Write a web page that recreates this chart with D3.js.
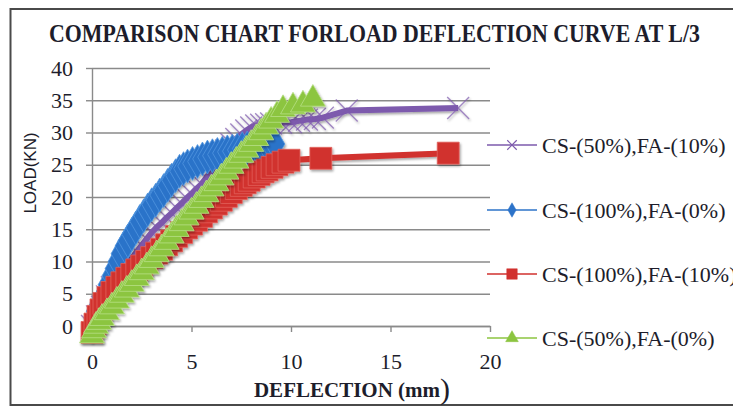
<!DOCTYPE html>
<html>
<head>
<meta charset="utf-8">
<script src="https://cdn.jsdelivr.net/npm/d3@7"></script>
<style>
  html, body { margin: 0; padding: 0; background: #fff; }
  svg { display: block; }
</style>
</head>
<body>
<svg id="chart" width="733" height="408"></svg>
<script>
// ---- data ----
const chartTitle = "COMPARISON CHART FORLOAD DEFLECTION CURVE AT L/3";
const xTitle = "DEFLECTION (mm";
const yTitle = "LOAD(KN)";
const xTickValues = [0, 5, 10, 15, 20];
const yTickValues = [0, 5, 10, 15, 20, 25, 30, 35, 40];
const seriesNames = ["CS-(50%),FA-(10%)", "CS-(100%),FA-(0%)", "CS-(100%),FA-(10%)", "CS-(50%),FA-(0%)"];

// CS-(50%),FA-(10%)
const cs50fa10Defl = [0, 0.25, 0.5, 0.75, 1, 1.25, 1.5, 1.75, 2, 2.25, 2.5, 2.75, 3, 3.25, 3.5, 3.75, 4, 4.25, 4.5, 4.75, 5, 5.25, 5.5, 5.75, 6, 6.25, 6.5, 6.75, 7, 7.25, 7.5, 7.75, 8, 8.25, 8.5, 8.75, 9, 9.5, 10, 10.4, 10.8, 11.2, 11.6, 12.8, 18.4];
const cs50fa10Load = [0, 1.5, 3, 4.6, 6, 7.3, 8.5, 9.5, 10.5, 11.5, 12.5, 13.5, 14.5, 15.3, 16, 16.8, 17.5, 18.3, 19, 19.8, 20.5, 21.3, 22, 23, 24, 25, 26, 27.2, 28.2, 29, 29.7, 30.3, 30.8, 31.1, 31.2, 31.3, 31.4, 31.5, 31.6, 31.8, 32, 32.1, 32.3, 33.4, 33.8];

// CS-(100%),FA-(0%)
const cs100fa0Defl = [0, 0.1, 0.2, 0.3, 0.4, 0.5, 0.65, 0.8, 1, 1.15, 1.3, 1.45, 1.65, 1.8, 2, 2.2, 2.4, 2.6, 2.8, 3, 3.2, 3.4, 3.6, 3.8, 4, 4.2, 4.4, 4.6, 4.8, 5.05, 5.3, 5.55, 5.8, 6.05, 6.3, 6.55, 6.8, 7.05, 7.3, 7.55, 7.8, 8.05, 8.3, 8.55, 8.8, 9, 9.2];
const cs100fa0Load = [0, 1.2, 2.3, 3, 3.6, 4.2, 5, 6.4, 7.8, 8.9, 10, 11.2, 12.4, 13.2, 14.2, 15.2, 16.2, 17.1, 18, 18.8, 19.5, 20.3, 21, 21.8, 22.6, 23.3, 24, 24.4, 24.8, 25.2, 25.5, 25.9, 26.2, 26.4, 26.6, 26.8, 27, 27.1, 27.3, 27.5, 27.6, 27.7, 27.8, 27.9, 28, 28.1, 28.2];

// CS-(100%),FA-(10%)
const cs100fa10Defl = [0, 0.15, 0.3, 0.45, 0.6, 0.8, 1, 1.25, 1.5, 1.75, 2, 2.25, 2.5, 2.75, 3, 3.25, 3.5, 3.75, 4, 4.25, 4.5, 4.75, 5, 5.25, 5.5, 5.75, 6, 6.25, 6.5, 6.75, 7, 7.25, 7.5, 7.7, 7.9, 8.15, 8.4, 8.6, 8.8, 9.05, 9.3, 9.6, 9.9, 11.5, 17.9];
const cs100fa10Load = [-1, 0.3, 1.5, 2.5, 3.5, 4.4, 5.2, 6, 6.7, 7.4, 8, 8.7, 9.3, 10, 10.6, 11.3, 11.9, 12.6, 13.2, 13.9, 14.5, 15.2, 15.8, 16.4, 17, 17.7, 18.3, 18.9, 19.5, 20.1, 20.7, 21.3, 21.8, 22.2, 22.6, 23.1, 23.5, 23.9, 24.2, 24.6, 25, 25.4, 25.7, 26, 26.8];

// CS-(50%),FA-(0%)
const cs50fa0Defl = [0, 0.1, 0.2, 0.35, 0.5, 0.75, 1, 1.25, 1.5, 1.75, 2, 2.25, 2.5, 2.75, 3, 3.25, 3.5, 3.75, 4, 4.25, 4.5, 4.75, 5, 5.25, 5.5, 5.75, 6, 6.25, 6.5, 6.75, 7, 7.25, 7.5, 7.75, 8, 8.25, 8.5, 8.75, 9, 9.3, 9.6, 10.1, 10.6, 11.1];
const cs50fa0Load = [-1.5, -0.7, 0, 0.6, 1.2, 2.1, 3, 3.9, 4.8, 5.6, 6.5, 7.4, 8.3, 9.2, 10.2, 11.1, 12, 13, 14, 15, 15.9, 16.8, 17.7, 18.6, 19.5, 20.4, 21.3, 22.1, 23, 23.9, 24.8, 25.6, 26.5, 27.3, 28.2, 29.1, 30, 30.9, 31.8, 32.7, 33.6, 34, 34.3, 35.2];

// ---- layout ----
const svg = d3.select("#chart");
const plotLeft = 92, plotRight = 490, plotTop = 68, plotBottom = 326;

const x = d3.scaleLinear().domain([0, 20]).range([plotLeft, plotRight]);
const y = d3.scaleLinear().domain([0, 40]).range([plotBottom, plotTop]);

const serif = "'Liberation Serif', 'Times New Roman', serif";
const sans = "'Liberation Sans', Arial, sans-serif";
const textColor = "#1d1d2b";

const defs = svg.append("defs");
defs.append("filter").attr("id", "shade").attr("x", "-20%").attr("y", "-20%").attr("width", "140%").attr("height", "140%")
  .append("feDropShadow").attr("dx", 1.2).attr("dy", 1.8).attr("stdDeviation", 1.2)
  .attr("flood-color", "#000").attr("flood-opacity", 0.35);

// outer frame
svg.append("rect").attr("x", 10.5).attr("y", 9).attr("width", 740).attr("height", 396)
  .attr("fill", "#fff").attr("stroke", "#4a4a4a").attr("stroke-width", 2);

// title
svg.append("text").attr("x", 49).attr("y", 42)
  .attr("font-family", serif).attr("font-weight", "bold").attr("font-size", 25)
  .attr("fill", textColor)
  .attr("textLength", 651).attr("lengthAdjust", "spacingAndGlyphs")
  .text(chartTitle);

// horizontal gridlines
svg.append("g").attr("transform", `translate(${plotLeft},0)`)
  .call(d3.axisLeft(y).tickValues(yTickValues).tickSize(-(plotRight - plotLeft)).tickFormat(""))
  .call(g => g.select(".domain").remove())
  .call(g => g.selectAll("line").attr("stroke", "#8a8a8a").attr("stroke-width", 1.4));

// y axis with tick labels
svg.append("g").attr("transform", `translate(${plotLeft},0)`)
  .call(d3.axisLeft(y).tickValues(yTickValues).tickSize(6).tickSizeOuter(0).tickPadding(13))
  .call(g => g.select(".domain").attr("stroke", "#8a8a8a").attr("stroke-width", 1.4))
  .call(g => g.selectAll("line").attr("stroke", "#8a8a8a").attr("stroke-width", 1.4))
  .call(g => g.selectAll("text").attr("font-family", serif).attr("font-size", 22).attr("fill", textColor));

// x axis with tick labels
svg.append("g").attr("transform", `translate(0,${plotBottom})`)
  .call(d3.axisBottom(x).tickValues(xTickValues).tickSize(6).tickSizeOuter(0).tickPadding(21))
  .call(g => g.select(".domain").attr("stroke", "#8a8a8a").attr("stroke-width", 1.4))
  .call(g => g.selectAll("line").attr("stroke", "#8a8a8a").attr("stroke-width", 1.4))
  .call(g => g.selectAll("text").attr("font-family", serif).attr("font-size", 22).attr("fill", textColor));

// axis titles
const xt = svg.append("text").attr("x", 352).attr("y", 397).attr("text-anchor", "middle")
  .attr("font-family", serif).attr("font-weight", "bold").attr("font-size", 21).attr("fill", textColor);
xt.append("tspan").text(xTitle);
xt.append("tspan").attr("font-size", 30).attr("font-weight", "normal").attr("dy", 2).text(")");

svg.append("text").attr("transform", "translate(36,173) rotate(-90)").attr("text-anchor", "middle")
  .attr("font-family", sans).attr("font-size", 17).attr("fill", textColor)
  .text(yTitle);

// ---- series ----
const xMark = {
  draw(ctx, size) {
    const r = Math.sqrt(size) / 2;
    ctx.moveTo(-r, -r); ctx.lineTo(r, r);
    ctx.moveTo(r, -r); ctx.lineTo(-r, r);
  }
};

const series = [
  { name: seriesNames[0], defl: cs50fa10Defl, load: cs50fa10Load, color: "#7d5aad", symbol: xMark, size: 480, legendSize: 90, stroke: true },
  { name: seriesNames[1], defl: cs100fa0Defl, load: cs100fa0Load, color: "#2c73c9", symbol: d3.symbolDiamond, size: 330, legendSize: 60, stroke: false, edge: "#4f95e0" },
  { name: seriesNames[2], defl: cs100fa10Defl, load: cs100fa10Load, color: "#d1312e", symbol: d3.symbolSquare, size: 480, legendSize: 110, stroke: false, edge: "#e2625c" },
  { name: seriesNames[3], defl: cs50fa0Defl, load: cs50fa0Load, color: "#8cc540", symbol: d3.symbolTriangle, size: 270, legendSize: 70, stroke: false, edge: "#b8df87" }
];

const line = d3.line().x(d => x(d[0])).y(d => y(d[1]));

const plot = svg.append("g");
series.forEach(s => {
  const pts = s.defl.map((d, i) => [d, s.load[i]]);
  const g = plot.append("g").attr("filter", "url(#shade)");
  g.append("path").datum(pts).attr("d", line)
    .attr("fill", "none").attr("stroke", s.color).attr("stroke-width", 6).attr("stroke-linejoin", "round");
  const sym = d3.symbol().type(s.symbol).size(s.size);
  g.selectAll("path.mk").data(pts).join("path").attr("class", "mk")
    .attr("transform", d => `translate(${x(d[0])},${y(d[1])})`)
    .attr("d", sym)
    .attr("fill", s.stroke ? "none" : s.color)
    .attr("stroke", s.stroke ? s.color : s.edge)
    .attr("stroke-width", s.stroke ? 1.4 : 0.8)
    .attr("stroke-opacity", s.stroke ? 0.7 : 1);
});

// ---- legend ----
const legendRows = [145, 210, 274, 338];
const legend = svg.append("g");
series.forEach((s, i) => {
  const ly = legendRows[i];
  legend.append("line").attr("x1", 487).attr("x2", 537).attr("y1", ly).attr("y2", ly)
    .attr("stroke", s.color).attr("stroke-width", 1.5);
  legend.append("path").attr("transform", `translate(512,${ly})`)
    .attr("d", d3.symbol().type(s.symbol).size(s.legendSize))
    .attr("fill", s.stroke ? "none" : s.color)
    .attr("stroke", s.color).attr("stroke-width", s.stroke ? 1.2 : 0.5);
  legend.append("text").attr("x", 542).attr("y", ly + 8)
    .attr("font-family", serif).attr("font-size", 22).attr("fill", textColor)
    .text(s.name);
});
</script>
</body>
</html>
